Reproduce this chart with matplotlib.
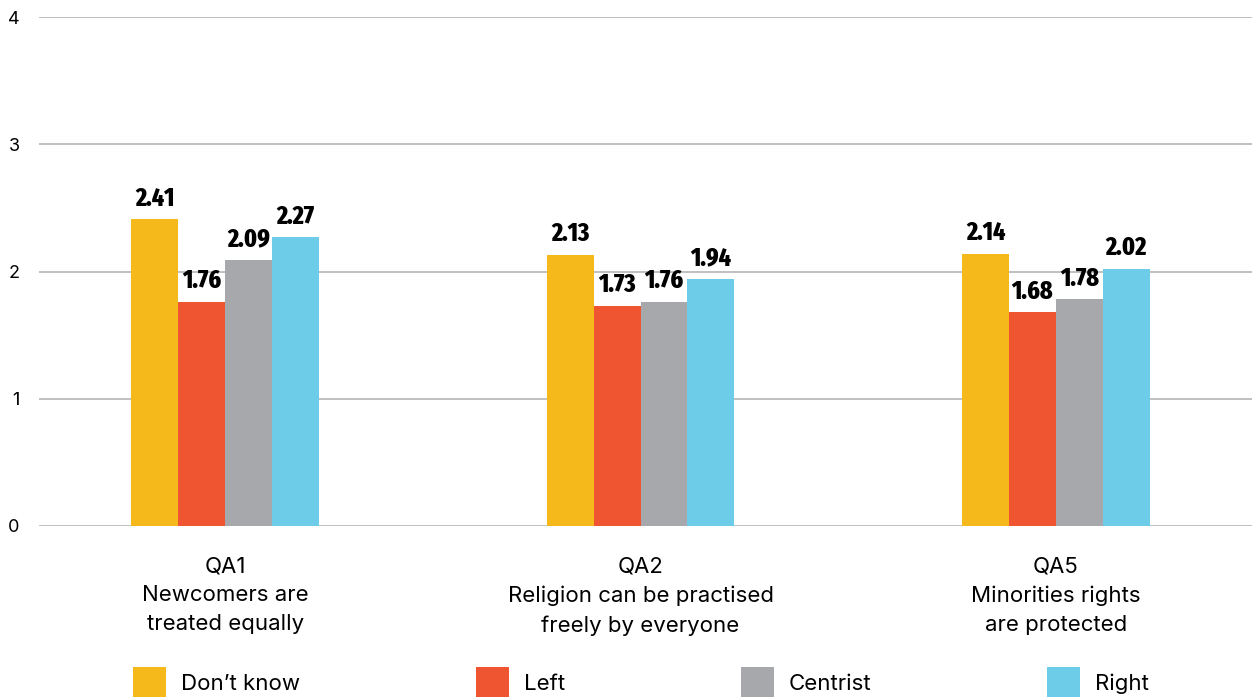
import matplotlib
matplotlib.use("Agg")
from matplotlib import pyplot as plt
import numpy as np

categories = ["QA1\nNewcomers are\ntreated equally",
              "QA2\nReligion can be practised\nfreely by everyone",
              "QA5\nMinorities rights\nare protected"]
series_names = ["Don\u2019t know", "Left", "Centrist", "Right"]
dont_know = [2.41, 2.13, 2.14]
left = [1.76, 1.73, 1.68]
centrist = [2.09, 1.76, 1.78]
right = [2.27, 1.94, 2.02]
y_ticks = [0, 1, 2, 3, 4]

colors = ["#F5B91C", "#F05532", "#A7A8AC", "#6DCDE8"]

plt.rcParams['font.family'] = ['Inter', 'DejaVu Sans']

fig = plt.figure(figsize=(12.52, 6.97), dpi=100)
ax = fig.add_axes([39 / 1252, 1 - 526 / 697, 1 - 39 / 1252, (526 - 17) / 697])

x = np.arange(len(categories))
w = 0.113
offsets = [-1.5, -0.5, 0.5, 1.5]
handles = []
for vals, off, col, name in zip([dont_know, left, centrist, right], offsets, colors, series_names):
    bars = ax.bar(x + off * w, vals, width=w, color=col, label=name, zorder=3)
    handles.append(bars)
    for b, v in zip(bars, vals):
        ax.annotate(f"{v:.2f}", xy=(b.get_x() + b.get_width() / 2, v),
                    xytext=(0, 6), textcoords='offset points',
                    ha='center', va='bottom', fontsize=18.5, fontweight=800,
                    family=['Fira Sans Extra Condensed', 'DejaVu Sans'], zorder=4)

ax.set_xlim(-0.448, 2.472)
ax.set_ylim(0, 4)
ax.set_yticks(y_ticks)
ax.set_yticklabels([str(t) for t in y_ticks], fontsize=13)
ax.grid(axis='y', color='#B5B5B5', linewidth=1.2, zorder=0)
ax.set_xticks(x)
ax.set_xticklabels(categories, fontsize=16, linespacing=1.55)
ax.tick_params(axis='both', length=0)
ax.tick_params(axis='x', pad=22)
ax.tick_params(axis='y', pad=14)
for s in ax.spines.values():
    s.set_visible(False)

leg = fig.legend(handles=handles, labels=series_names, loc='upper left',
                 bbox_to_anchor=(133 / 1252, 1 - 667 / 697), ncol=4,
                 frameon=False, fontsize=16, borderpad=0, borderaxespad=0,
                 handlelength=1.49, handleheight=1.75, handletextpad=0.68,
                 columnspacing=7.9)

fig.savefig("out.png", dpi=100)
